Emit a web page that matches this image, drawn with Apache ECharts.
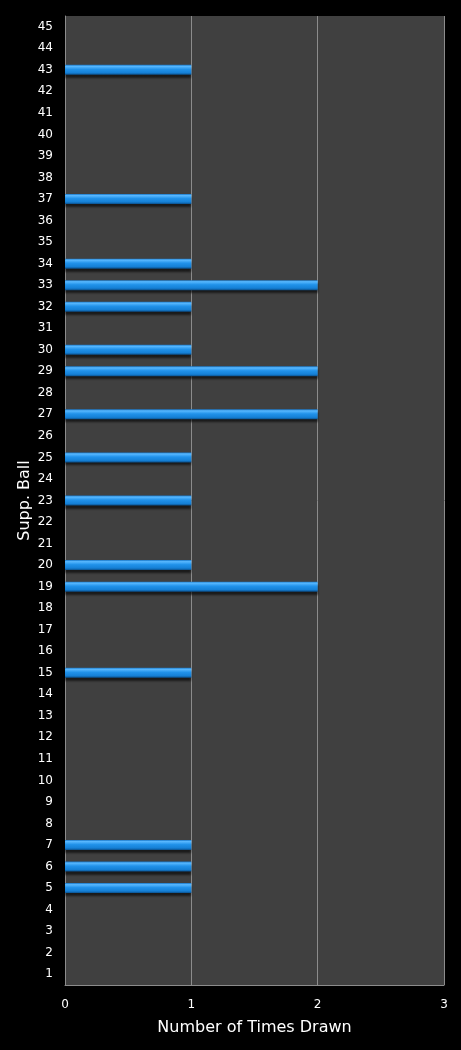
<!DOCTYPE html>
<html><head><meta charset="utf-8">
<script src="https://cdn.jsdelivr.net/npm/echarts@6/dist/echarts.min.js"></script>
<style>html,body{margin:0;padding:0;background:#000;}#c{width:461px;height:1050px;}</style>
</head><body><div id="c"></div>
<script>
const categories = [];
for (let i = 1; i <= 45; i++) categories.push(String(i));
const drawnBalls = [5, 6, 7, 15, 19, 20, 23, 25, 27, 29, 30, 32, 33, 34, 37, 43];
const drawnCounts = [1, 1, 1, 1, 2, 1, 1, 1, 2, 2, 1, 1, 2, 1, 1, 1];
const xTicks = [0, 1, 2, 3];

const values = categories.map(c => {
  const idx = drawnBalls.indexOf(Number(c));
  return idx >= 0 ? drawnCounts[idx] : 0;
});

const chart = echarts.init(document.getElementById('c'));
chart.setOption({
  backgroundColor: '#000',
  animation: false,
  grid: { left: 65, right: 17, top: 16, bottom: 65, show: true, backgroundColor: '#404040', borderWidth: 0 },
  xAxis: {
    type: 'value', min: 0, max: 3, interval: 1,
    name: 'Number of Times Drawn', nameLocation: 'middle', nameGap: 35,
    nameTextStyle: { color: '#fff', fontSize: 16, fontFamily: 'DejaVu Sans' },
    axisLine: { show: true, lineStyle: { color: '#8c8c8c', width: 1 } },
    axisTick: { show: false },
    axisLabel: { color: '#fff', fontSize: 12, fontFamily: 'DejaVu Sans', margin: 14,
      formatter: v => xTicks.includes(v) ? String(v) : '' },
    splitLine: { show: true, lineStyle: { color: '#8c8c8c', width: 1 } }
  },
  yAxis: {
    type: 'category', data: categories,
    name: 'Supp. Ball', nameLocation: 'middle', nameGap: 32, nameRotate: 90,
    nameMoveOverlap: false,
    nameTextStyle: { color: '#fff', fontSize: 16, fontFamily: 'DejaVu Sans' },
    axisLine: { show: true, lineStyle: { color: '#8c8c8c', width: 1 } },
    axisTick: { show: false },
    axisLabel: { color: '#fff', fontSize: 12, fontFamily: 'DejaVu Sans', margin: 12 },
    splitLine: { show: false }
  },
  series: [{
    type: 'bar', data: values, barWidth: 10,
    itemStyle: {
      color: new echarts.graphic.LinearGradient(0, 0, 0, 1, [
        { offset: 0, color: '#1a78c8' },
        { offset: 0.15, color: '#58b8ff' },
        { offset: 0.45, color: '#2192ea' },
        { offset: 0.8, color: '#1580d6' },
        { offset: 1, color: '#0b4f8a' }
      ]),
      shadowColor: 'rgba(0,0,0,0.6)', shadowOffsetY: 3, shadowBlur: 2
    }
  }]
});
</script></body></html>
